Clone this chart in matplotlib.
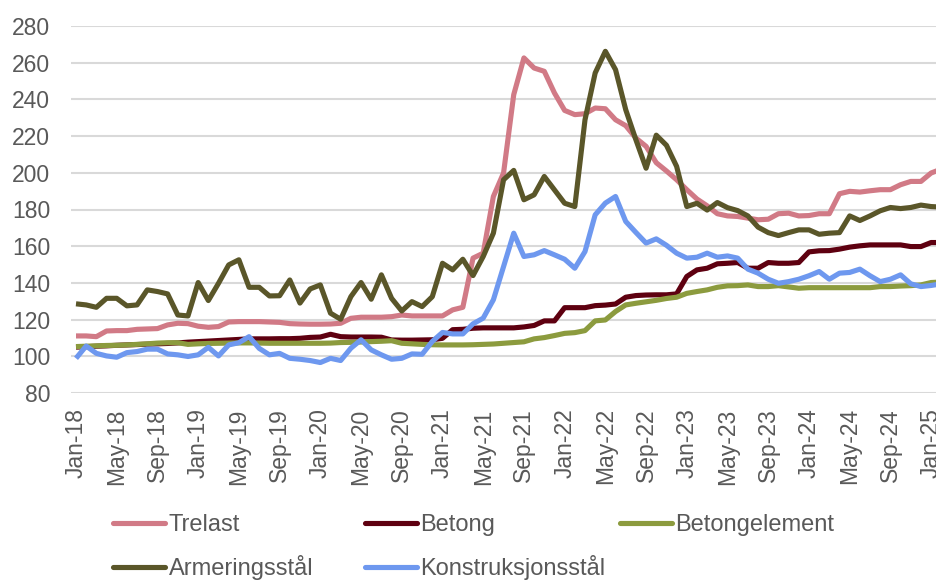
import matplotlib
matplotlib.use("Agg")
import matplotlib.pyplot as plt
import pandas as pd
from matplotlib.lines import Line2D

months = pd.date_range("2018-01-01", periods=86, freq="MS").strftime("%b-%y").tolist()

trelast = [111.1, 111.1, 110.7, 113.8, 114.0, 114.0, 114.7, 114.9, 115.1, 117.1,
           118.0, 117.8, 116.4, 115.8, 116.2, 118.7, 118.9, 118.9, 118.9, 118.7,
           118.5, 117.8, 117.6, 117.5, 117.5, 117.6, 118.0, 120.7, 121.3, 121.3,
           121.3, 121.6, 122.5, 122.0, 122.0, 122.0, 122.0, 125.3, 126.7, 153.5,
           156.2, 187.1, 199.9, 242.6, 262.6, 257.1, 255.3, 243.5, 234.0, 231.7,
           232.2, 235.3, 234.9, 228.9, 225.7, 218.9, 214.4, 205.5, 201.0, 196.2,
           190.8, 185.7, 182.0, 177.7, 176.5, 176.2, 175.3, 174.4, 174.7, 177.7,
           178.0, 176.5, 176.7, 177.7, 177.7, 188.6, 189.9, 189.5, 190.2, 190.8,
           190.8, 193.5, 195.3, 195.3, 199.9, 202.0]

betong = [105.0, 105.2, 105.5, 105.7, 106.0, 106.2, 106.4, 106.6, 106.8, 107.0,
          107.3, 107.7, 108.0, 108.3, 108.6, 108.9, 109.2, 109.5, 109.5, 109.5,
          109.6, 109.6, 109.8, 110.3, 110.5, 112.0, 110.7, 110.5, 110.5, 110.5,
          110.4, 108.9, 108.8, 108.8, 108.9, 109.0, 109.8, 114.5, 114.7, 115.3,
          115.5, 115.5, 115.5, 115.5, 116.0, 116.8, 119.3, 119.3, 126.5, 126.5,
          126.5, 127.6, 127.9, 128.5, 132.2, 133.1, 133.4, 133.5, 133.5, 134.0,
          143.5, 147.1, 148.0, 150.4, 150.7, 151.1, 148.0, 148.0, 151.1, 150.7,
          150.7, 151.1, 156.9, 157.5, 157.6, 158.4, 159.5, 160.2, 160.7, 160.7,
          160.7, 160.7, 159.8, 159.8, 162.0, 162.0]

betongelement = [105.3, 105.5, 105.7, 105.9, 106.0, 106.2, 106.5, 106.8, 107.2, 107.4,
                 107.4, 106.5, 106.8, 107.0, 107.1, 107.2, 107.3, 107.3, 107.2, 107.1,
                 107.1, 107.1, 107.1, 107.1, 107.1, 107.2, 107.5, 107.6, 107.8, 108.0,
                 108.2, 108.5, 107.1, 106.8, 106.5, 106.3, 106.2, 106.2, 106.2, 106.3,
                 106.5, 106.7, 107.1, 107.5, 107.9, 109.5, 110.2, 111.3, 112.5, 112.9,
                 114.0, 119.3, 119.8, 124.4, 128.0, 128.9, 129.7, 130.5, 131.5, 132.2,
                 134.3, 135.3, 136.2, 137.6, 138.4, 138.5, 138.9, 138.0, 138.0, 138.5,
                 137.8, 137.1, 137.4, 137.4, 137.4, 137.4, 137.4, 137.4, 137.4, 138.0,
                 138.0, 138.3, 138.5, 138.9, 140.2, 140.5]

armeringsstaal = [128.6, 128.0, 126.7, 131.6, 131.6, 127.5, 128.0, 136.2, 135.3, 134.0,
                  122.5, 122.0, 140.2, 130.4, 139.8, 149.8, 152.6, 137.6, 137.6, 132.9,
                  133.0, 141.6, 129.0, 136.7, 138.9, 123.5, 120.2, 132.5, 140.2, 131.1,
                  144.4, 131.6, 124.7, 129.8, 127.1, 132.5, 150.7, 147.1, 152.9, 144.0,
                  154.4, 167.1, 196.2, 201.3, 185.3, 188.0, 198.0, 190.7, 183.4, 181.6,
                  228.9, 254.4, 266.2, 256.2, 234.4, 218.0, 202.5, 220.5, 215.0, 203.5,
                  181.6, 183.4, 179.7, 183.8, 181.0, 179.4, 176.5, 170.4, 167.4, 165.8,
                  167.4, 168.9, 168.9, 166.5, 167.1, 167.4, 176.5, 174.0, 176.5, 179.3,
                  181.1, 180.5, 181.1, 182.4, 181.6, 181.3]

konstruksjonsstaal = [98.9, 105.6, 101.6, 100.2, 99.5, 102.0, 102.6, 103.9, 103.9, 101.3,
                      100.8, 99.9, 100.8, 104.9, 100.2, 106.2, 107.4, 110.7, 104.3, 100.8,
                      101.6, 98.9, 98.4, 97.7, 96.6, 98.9, 97.7, 104.4, 109.0, 103.5,
                      100.8, 98.4, 98.9, 101.3, 101.1, 108.1, 113.0, 112.2, 112.2, 117.7,
                      120.8, 130.8, 148.9, 167.1, 154.4, 155.3, 157.6, 155.3, 152.9, 148.0,
                      157.1, 177.1, 183.5, 187.1, 173.5, 167.5, 161.7, 164.0, 160.5, 156.2,
                      153.5, 154.0, 156.2, 154.0, 154.7, 153.5, 147.5, 145.3, 142.0, 139.8,
                      140.7, 142.0, 143.9, 146.2, 142.0, 145.3, 145.7, 147.5, 143.9, 140.7,
                      142.0, 144.4, 139.5, 138.0, 138.6, 139.5]

series_names = ["Trelast", "Betong", "Betongelement", "Armeringsstål", "Konstruksjonsstål"]
series_values = [trelast, betong, betongelement, armeringsstaal, konstruksjonsstaal]
colors = ["#D17A86", "#5E0010", "#8C9B3E", "#5A5629", "#6E98EF"]

plt.rcParams["font.family"] = ["Liberation Sans", "DejaVu Sans"]
W, H = 937, 581
fig = plt.figure(figsize=(W / 100, H / 100), dpi=100)
left_px, right_px, top_px, bottom_px = 71, 937, 26, 393
ax = fig.add_axes([left_px / W, 1 - bottom_px / H, (right_px - left_px) / W, (bottom_px - top_px) / H])

x = list(range(len(months)))
handles = []
for name, vals, c in zip(series_names, series_values, colors):
    h, = ax.plot(x, vals, color=c, lw=3.7, solid_joinstyle="round", solid_capstyle="butt", label=name)
    handles.append(h)

step = 10.18
ax.set_xlim((left_px - 76) / step, (right_px - 76) / step)
ax.set_ylim(80, 280)
ax.set_yticks(range(80, 281, 20))
tick_idx = list(range(0, 85, 4))
ax.set_xticks(tick_idx)
ax.set_xticklabels([months[i] for i in tick_idx], rotation=90, va="top", ha="center")

ax.grid(axis="y", color="#D9D9D9", lw=1.5)
ax.set_axisbelow(True)
for s in ax.spines.values():
    s.set_visible(False)
ax.tick_params(axis="both", length=0, labelsize=16.5, colors="#595959")
ax.tick_params(axis="y", pad=15)
ax.tick_params(axis="x", pad=11)

# legend entries placed like the original (fixed column grid)
pos = [(113, 525), (365, 525), (620, 525), (113, 568), (365, 568)]
for h, (px, py) in zip(handles, pos):
    lh = Line2D([], [], color=h.get_color(), lw=3.7, solid_capstyle="round")
    fig.legend([lh], [h.get_label()], loc="center left",
               bbox_to_anchor=(px / W, 1 - py / H), frameon=False,
               borderpad=0, borderaxespad=0, handlelength=2.2, handletextpad=0.15,
               prop={"size": 17}, labelcolor="#595959")

fig.savefig("out.png", dpi=100)
